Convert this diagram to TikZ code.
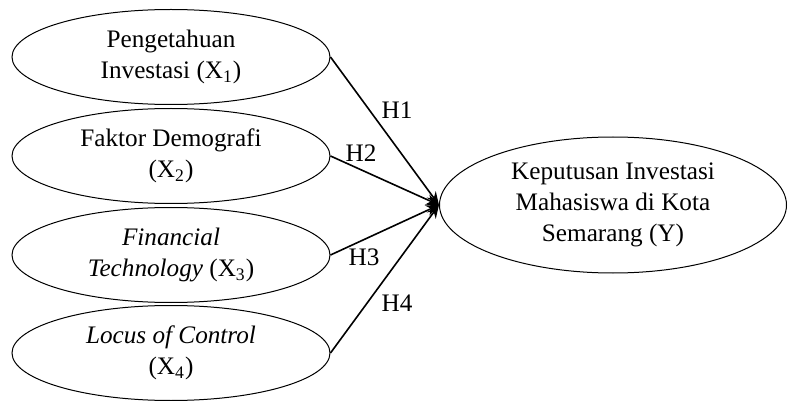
\documentclass[tikz,border=0pt]{standalone}
\usepackage{fontspec}
\setmainfont{Liberation Serif}
\usetikzlibrary{shapes.geometric,arrows.meta}
\tikzset{
  varbox/.style={draw,ellipse,line width=0.5pt,inner sep=0pt,
    minimum width=159pt,minimum height=47.5pt,align=center},
  hyparrow/.style={-{Stealth[length=6.5pt,width=5.5pt]},line width=0.8pt}
}
\begin{document}
\begin{tikzpicture}[x=0.5pt,y=-0.5pt,font=\fontsize{12.6}{15.5}\selectfont]
        \useasboundingbox (0,0) rectangle (788,401);
        %% Independent variables
        \node[varbox] (x1) at (171,57) {Pengetahuan\\Investasi (X\textsubscript{1})};
        \node[varbox] (x2) at (171,156) {Faktor Demografi\\(X\textsubscript{2})};
        \node[varbox] (x3) at (171,255) {\textit{Financial}\\\textit{Technology} (X\textsubscript{3})};
        \node[varbox] (x4) at (171,353) {\textit{Locus of Control}\\(X\textsubscript{4})};
        %% Dependent variable
        \node[varbox,minimum width=173.5pt,minimum height=68pt] (y) at (613,205)
          {Keputusan Investasi\\Mahasiswa di Kota\\Semarang (Y)};
        %% Hypotheses
        \draw[hyparrow] (x1.east) -- (y.west);
        \draw[hyparrow] (x2.east) -- (y.west);
        \draw[hyparrow] (x3.east) -- (y.west);
        \draw[hyparrow] (x4.east) -- (y.west);
        \node (h1) at (397,110) {H1};
        \node (h2) at (361,153) {H2};
        \node (h3) at (364,257) {H3};
        \node (h4) at (397,303) {H4};
    \end{tikzpicture}
\end{document}
